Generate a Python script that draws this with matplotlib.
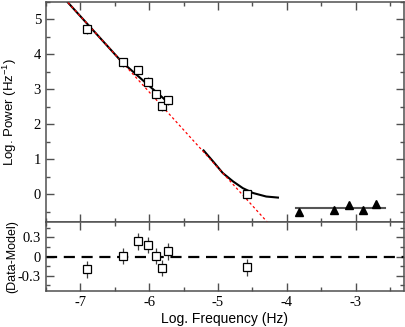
import numpy as np
import matplotlib
matplotlib.use('Agg')
import matplotlib.pyplot as plt
from matplotlib.ticker import MultipleLocator, FixedLocator, FixedFormatter

plt.rcParams['axes.unicode_minus'] = False
plt.rcParams['mathtext.fontset'] = 'custom'
plt.rcParams['mathtext.rm'] = 'Liberation Sans'
plt.rcParams['mathtext.default'] = 'regular'

# low-frequency power spectrum points (open squares)
sq_freq = [-6.91, -6.38, -6.16, -6.01, -5.90, -5.81, -5.73, -4.58]
sq_power = [4.72, 3.78, 3.55, 3.22, 2.86, 2.52, 2.69, -0.01]
sq_err = [0.13, 0.13, 0.13, 0.13, 0.13, 0.13, 0.13, 0.13]
sq_resid = [-0.20, 0.01, 0.24, 0.18, 0.01, -0.18, 0.08, -0.17]

# high-frequency points (filled triangles)
tri_freq = [-3.82, -3.32, -3.10, -2.89, -2.70]
tri_power = [-0.50, -0.45, -0.31, -0.45, -0.28]
tri_err = [0.08, 0.08, 0.08, 0.08, 0.08]

# constant level through the triangles
const_freq = [-3.87, -2.58]
const_power = [-0.41, -0.41]

# power law (red dashed)
pl_freq = [-7.5, -4.2]
pl_power = [6.18, -0.985]

# fitted model (black), two pieces
fit1_freq = [-7.5, -6.40, -5.74]
fit1_power = [6.18, 3.79, 2.65]
fit2_freq = [-5.21, -5.07, -4.93, -4.78, -4.64, -4.49, -4.30, -4.13]
fit2_power = [1.25, 0.93, 0.60, 0.36, 0.17, 0.03, -0.07, -0.10]

spine_col = '#505050'
label_font = 'Liberation Sans'
tick_font = 'Liberation Serif'

fig = plt.figure(figsize=(4.06, 3.27), dpi=100)
ax = fig.add_axes([0.113, 0.321, 0.882, 0.673])
axr = fig.add_axes([0.113, 0.110, 0.882, 0.211], sharex=ax)

# top panel
ax.plot(fit1_freq, fit1_power, color='black', lw=1.5, zorder=2)
ax.plot(fit2_freq, fit2_power, color='black', lw=1.5, zorder=2)
ax.plot(pl_freq, pl_power, color='red', lw=0.9, ls=(0, (2, 2)), zorder=3)
ax.plot(const_freq, const_power, color='#555555', lw=1.5, zorder=2)
ax.errorbar(sq_freq, sq_power, yerr=sq_err, fmt='s', ms=5.5, mfc='white',
            mec='black', mew=0.9, ecolor='#404040', elinewidth=0.9,
            capsize=0, zorder=4)
ax.errorbar(tri_freq, tri_power, yerr=tri_err, fmt='^', ms=6, mfc='black',
            mec='black', ecolor='#404040', elinewidth=0.9, capsize=0, zorder=4)

ax.set_xlim(-7.5, -2.3)
ax.set_ylim(-0.8, 5.5)
ax.yaxis.set_major_locator(MultipleLocator(1))
ax.yaxis.set_minor_locator(MultipleLocator(0.5))
ax.xaxis.set_major_locator(MultipleLocator(1))
ax.xaxis.set_minor_locator(MultipleLocator(0.5))
ax.set_ylabel('Log. Power (Hz$^{-1}$)', family=label_font, fontsize=9.5)
plt.setp(ax.get_xticklabels(), visible=False)

# residual panel
axr.axhline(0, color='black', lw=1.6, ls=(0, (5, 3)), zorder=2)
axr.errorbar(sq_freq, sq_resid, yerr=sq_err, fmt='s', ms=5.5, mfc='white',
             mec='black', mew=0.9, ecolor='#404040', elinewidth=0.9,
             capsize=0, zorder=4)
axr.set_ylim(-0.54, 0.54)
axr.yaxis.set_major_locator(FixedLocator([-0.3, 0, 0.3]))
axr.yaxis.set_major_formatter(FixedFormatter(['-0.3', '0', '0.3']))
axr.yaxis.set_minor_locator(MultipleLocator(0.15))
axr.set_ylabel('(Data-Model)', family=label_font, fontsize=9)
axr.set_xlabel('Log. Frequency (Hz)', family=label_font, fontsize=10, labelpad=2)

for a in (ax, axr):
    for s in a.spines.values():
        s.set_color(spine_col)
        s.set_linewidth(1.1)
    a.tick_params(which='both', direction='in', top=True, right=True,
                  color=spine_col, width=1.0)
    a.tick_params(which='major', length=5.5, labelsize=10.5,
                  labelfontfamily=tick_font)
    a.tick_params(which='minor', length=3)

ax.yaxis.set_label_coords(-0.075, 0.5)
axr.yaxis.set_label_coords(-0.078, 0.5)

fig.savefig('out.png', dpi=100)
